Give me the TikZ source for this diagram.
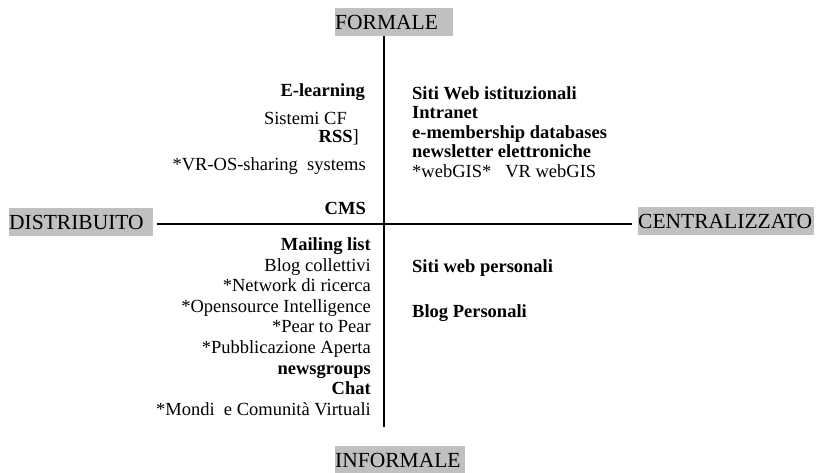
\documentclass[tikz,border=0pt]{standalone}
\usepackage{fontspec}
\setmainfont{Liberation Serif}
\definecolor{boxgray}{RGB}{192,192,192}

\begin{document}
\begin{tikzpicture}[x=1pt,y=-1pt,
  axislabel/.style={fill=boxgray,inner xsep=0pt,inner ysep=0pt,minimum height=28pt,
    anchor=north west,align=left,font=\fontsize{21.5}{24}\selectfont},
  item/.style={inner sep=0pt,font=\fontsize{18.5}{20}\selectfont},
  leftitem/.style={item,anchor=base east},
  rightitem/.style={item,anchor=base west},
  axis/.style={line width=1.6pt}]

\useasboundingbox (0,0) rectangle (821,472);

% Axis labels
\node[axislabel,text width=118pt] (formale) at (335,8) {FORMALE};
\node[axislabel,text width=130pt] (informale) at (335,446) {INFORMALE};
\node[axislabel,text width=144pt] (distribuito) at (9,208) {DISTRIBUITO};
\node[axislabel,text width=176pt] (centralizzato) at (638,207) {CENTRALIZZATO};

% Axes
\coordinate (AxisTop) at (384,36);
\coordinate (AxisBottom) at (384,427);
\coordinate (AxisLeft) at (157,224);
\coordinate (AxisRight) at (632,224);
\draw[axis] (AxisTop) -- (AxisBottom);
\draw[axis] (AxisLeft) -- (AxisRight);

% Formale - distribuito
\node[leftitem] (elearning) at (365,96) {\textbf{E-learning}};
\node[leftitem] (sistemicf) at (347,124) {Sistemi CF};
\node[leftitem] (rss) at (359,142) {\textbf{RSS}]};
\node[leftitem] (vros) at (366,170) {*VR-OS-sharing\ \ systems};
\node[leftitem] (cms) at (366,214) {\textbf{CMS}};

% Formale - centralizzato
\node[rightitem] (sitiweb) at (412,99) {\textbf{Siti Web istituzionali}};
\node[rightitem] (intranet) at (412,118.5) {\textbf{Intranet}};
\node[rightitem] (emember) at (412,138) {\textbf{e-membership databases}};
\node[rightitem] (newsletter) at (412,157.5) {\textbf{newsletter elettroniche}};
\node[rightitem] (webgis) at (412,177) {*webGIS*\hspace{14pt}VR webGIS};

% Informale - distribuito
\foreach \txt [count=\i from 0] in {\textbf{Mailing list},Blog collettivi,
    *Network di ricerca,*Opensource Intelligence,*Pear to Pear,
    *Pubblicazione Aperta,\textbf{newsgroups},\textbf{Chat},
    *Mondi\ \ e Comunità Virtuali}
  \node[leftitem] (inf\i) at (371,250.7+20.55*\i) {\txt};

% Informale - centralizzato
\node[rightitem] (sitipers) at (412,272) {\textbf{Siti web personali}};
\node[rightitem] (blogpers) at (412,317) {\textbf{Blog Personali}};

\end{tikzpicture}
\end{document}
